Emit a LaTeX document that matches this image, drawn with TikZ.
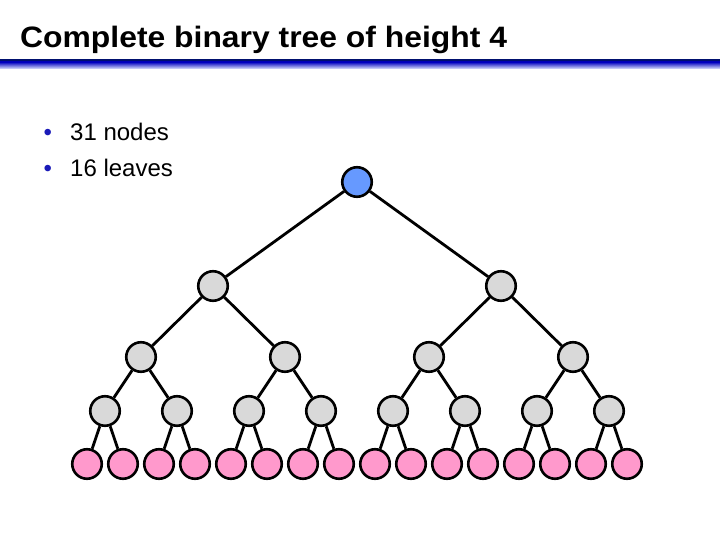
\documentclass[tikz,border=0pt]{standalone}
\usepackage{fontspec}
\setmainfont{Liberation Sans}
\newfontfamily\titlefont[FakeStretch=1.08]{Liberation Sans}
\usepackage{xcolor}
\usepackage{tikz}
\usetikzlibrary{positioning}

\definecolor{rootblue}{HTML}{6699FF}
\definecolor{innergray}{HTML}{D9D9D9}
\definecolor{leafpink}{HTML}{FF99CC}
\definecolor{rulenavy}{HTML}{00106E}
\definecolor{rulelight}{HTML}{E2E9FF}
\definecolor{bulletblue}{HTML}{1A1AB8}

\begin{document}
\begin{tikzpicture}[x=1pt, y=-1pt]
    \tikzstyle{vertex} = [circle, draw=black, line width=2.6pt, minimum size=29.5pt, inner sep=0pt]
    \tikzstyle{rootnode} = [vertex, fill=rootblue]
    \tikzstyle{inner} = [vertex, fill=innergray]
    \tikzstyle{leaf} = [vertex, fill=leafpink]
    \tikzstyle{edge} = [draw=black, line width=2.8pt]
    \tikzstyle{bullet} = [anchor=base west, inner sep=0pt, font=\fontsize{24}{28}\selectfont]

    \useasboundingbox (0,0) rectangle (720,540);

    % title and rule
    \node (title) [anchor=base west, inner sep=0pt, font=\titlefont\bfseries\fontsize{29.5}{34}\selectfont] at (20,48) {Complete binary tree of height 4};
    \fill[rulenavy] (0,59) rectangle (720,62);
    \shade[top color=blue!75!black, bottom color=rulelight] (0,62) rectangle (720,69);

    % bullets
    \node (b1) [bullet] at (43.5,141) {\textcolor{bulletblue}{•}};
    \node (b2) [bullet] at (43.5,177) {\textcolor{bulletblue}{•}};
    \node (t1) [bullet] at (70,141) {31 nodes};
    \node (t2) [bullet] at (70,177) {16 leaves};

    % root and inner levels
    \node (n1) [rootnode] at (357,182) {};
    \node (n2) [inner] at (213,286) {};
    \node (n3) [inner] at (501,286) {};
    \node (n4) [inner] at (141,357) {};
    \node (n5) [inner] at (285,357) {};
    \node (n6) [inner] at (429,357) {};
    \node (n7) [inner] at (573,357) {};
    \node (n8) [inner] at (105,411) {};
    \node (n9) [inner] at (177,411) {};
    \node (n10) [inner] at (249,411) {};
    \node (n11) [inner] at (321,411) {};
    \node (n12) [inner] at (393,411) {};
    \node (n13) [inner] at (465,411) {};
    \node (n14) [inner] at (537,411) {};
    \node (n15) [inner] at (609,411) {};

    % leaves
    \node (n16) [leaf] at (87,464) {};
    \node (n17) [leaf] at (123,464) {};
    \node (n18) [leaf] at (159,464) {};
    \node (n19) [leaf] at (195,464) {};
    \node (n20) [leaf] at (231,464) {};
    \node (n21) [leaf] at (267,464) {};
    \node (n22) [leaf] at (303,464) {};
    \node (n23) [leaf] at (339,464) {};
    \node (n24) [leaf] at (375,464) {};
    \node (n25) [leaf] at (411,464) {};
    \node (n26) [leaf] at (447,464) {};
    \node (n27) [leaf] at (483,464) {};
    \node (n28) [leaf] at (519,464) {};
    \node (n29) [leaf] at (555,464) {};
    \node (n30) [leaf] at (591,464) {};
    \node (n31) [leaf] at (627,464) {};

    % edges
    \path[edge] (n1) -- (n2) (n1) -- (n3);
    \path[edge] (n2) -- (n4) (n2) -- (n5) (n3) -- (n6) (n3) -- (n7);
    \path[edge] (n4) -- (n8) (n4) -- (n9) (n5) -- (n10) (n5) -- (n11)
                (n6) -- (n12) (n6) -- (n13) (n7) -- (n14) (n7) -- (n15);
    \path[edge] (n8) -- (n16) (n8) -- (n17) (n9) -- (n18) (n9) -- (n19)
                (n10) -- (n20) (n10) -- (n21) (n11) -- (n22) (n11) -- (n23)
                (n12) -- (n24) (n12) -- (n25) (n13) -- (n26) (n13) -- (n27)
                (n14) -- (n28) (n14) -- (n29) (n15) -- (n30) (n15) -- (n31);
\end{tikzpicture}
\end{document}
